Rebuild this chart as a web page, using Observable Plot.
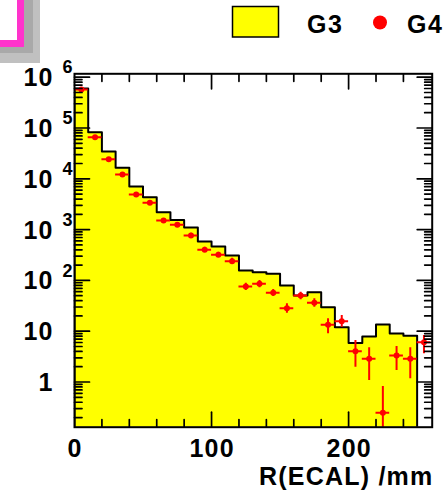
<!DOCTYPE html>
<html>
<head>
<meta charset="utf-8">
<script src="https://cdn.jsdelivr.net/npm/d3@7"></script>
<script src="https://cdn.jsdelivr.net/npm/@observablehq/plot@0.6"></script>
<style>
  html, body { margin: 0; padding: 0; background: #fff; }
  #wrap { position: relative; width: 443px; height: 494px; overflow: hidden; }
  #chart { position: absolute; left: 0; top: 0; }
  #chart svg text { letter-spacing: 1.2px; }
  .abs { position: absolute; }
  #legend { position: absolute; left: 0; top: 0; }
  #legend text { font-family: "Liberation Sans", Arial, sans-serif; font-weight: bold; font-size: 25px; letter-spacing: 1.5px; }
</style>
</head>
<body>
<div id="wrap">
  <div id="chart"></div>
  <!-- title box (clipped, with shadow) -->
  <div class="abs" style="left:0;top:0;width:40px;height:63px;background:#c0c0c0;"></div>
  <div class="abs" style="left:0;top:0;width:33px;height:53px;background:#a9a9a9;"></div>
  <div class="abs" style="left:-20px;top:-20px;width:36.5px;height:59.5px;background:#fff;border-right:7px solid #ff33cc;border-bottom:7px solid #ff33cc;"></div>
  <svg id="legend" width="443" height="60"></svg>
</div>
<script>
// ---- data ----
const binLow = [0,10,20,30,40,50,60,70,80,90,100,110,120,130,140,150,160,170,180,190,200,210,220,230,240];
const binHigh = [10,20,30,40,50,60,70,80,90,100,110,120,130,140,150,160,170,180,190,200,210,220,230,240,250];
const g3 = [600000,82600,34400,16500,7050,4350,2200,1545,1100,583,465,309,157,145,135,79.4,50.4,58.6,29.7,12.0,5.86,7.87,13.5,9.0,8.1];

const g4Low  = [0,10,20,30,40,50,60,70,80,90,100,110,120,130,140,150,160,170,180,190,200,210,220,230,240,250];
const g4High = [10,20,30,40,50,60,70,80,90,100,110,120,130,140,150,160,170,180,190,200,210,220,230,240,250,260];
const g4 = [575000,65900,24300,12200,4910,3370,1510,1240,765,400,319,239,75.9,85.7,57.0,28.4,50.4,36.2,13.4,15.7,4.04,2.86,0.248,3.32,2.86,6.07];
const g4ErrLo = [555000,62000,23000,11500,4600,3150,1380,1130,690,355,283,210,63.3,71.5,48.2,22.6,41.5,29.7,8.9,12.0,1.96,1.07,0.05,1.68,1.16,3.59];
const g4ErrHi = [595000,70000,25700,12900,5250,3600,1650,1360,850,450,360,272,88.1,99.6,66.2,34.6,58.6,43.4,17.5,20.4,6.56,4.71,0.815,5.0,4.71,8.23];

const xDomain = [0, 261];
const yDomain = [0.129, 1.167e6];

const xMajorTicks = [100, 200];
const xMinorTicks = [20, 40, 60, 80, 120, 140, 160, 180, 220, 240];
const xTickLabels = ["0", "100", "200"];
const xTickValues = [0, 100, 200];

const yMajorTicks = [1, 10, 100, 1000, 10000, 100000, 1000000];
const yLabelBase = ["1", "10", "10", "10", "10", "10", "10"];
const yLabelExp  = ["", "", "2", "3", "4", "5", "6"];

const xTitle = "R(ECAL) /mm";
const legendNames = ["G3", "G4"];

// minor log ticks (2..9 per decade) within the domain
const yMinorTicks = [];
for (let e = -1; e <= 5; e++) for (let m = 2; m <= 9; m++) {
  const v = m * Math.pow(10, e);
  if (v > yDomain[0] && v < yDomain[1]) yMinorTicks.push(v);
}

// ---- tables ----
const floorY = yDomain[0] * 0.5;
const outline = [{x: binLow[0], y: floorY}]
  .concat(binLow.map((lo, i) => ({x: lo, y: g3[i]})))
  .concat([{x: binHigh[binHigh.length - 1], y: g3[g3.length - 1]}, {x: binHigh[binHigh.length - 1], y: floorY}]);
const pts = g4.map((v, i) => ({lo: g4Low[i], hi: g4High[i], c: (g4Low[i] + g4High[i]) / 2, v, eLo: g4ErrLo[i], eHi: g4ErrHi[i]}));
const yLabels = yMajorTicks.map((v, i) => ({v, base: yLabelBase[i], exp: yLabelExp[i]}));
const xLabels = xTickValues.map((v, i) => ({v, t: xTickLabels[i]}));

const tickShape = {draw(ctx, l) { ctx.moveTo(0, 0); ctx.lineTo(0, -l); }};
const font = "Liberation Sans, Arial, sans-serif";
const tk = (data, opts) => Plot.vector(data, {anchor: "start", shape: tickShape, stroke: "black", strokeWidth: 1.7, ...opts});

const chart = Plot.plot({
  width: 443,
  height: 494,
  marginLeft: 74,
  marginRight: 11.3,
  marginTop: 73.3,
  marginBottom: 67.3,
  x: {domain: xDomain, axis: null},
  y: {type: "log", domain: yDomain, axis: null},
  style: {fontFamily: font, fontWeight: "bold", background: "transparent"},
  marks: [
    Plot.areaY(outline, {x: "x", y1: floorY, y2: "y", curve: "step-after", fill: "#ffff00", clip: true}),
    Plot.line(outline, {x: "x", y: "y", curve: "step-after", stroke: "black", strokeWidth: 2, clip: true}),
    Plot.ruleY(pts, {x1: "lo", x2: "hi", y: "v", stroke: "#ff0000", strokeWidth: 2, clip: true}),
    Plot.ruleX(pts, {x: "c", y1: "eLo", y2: "eHi", stroke: "#ff0000", strokeWidth: 2, clip: true}),
    Plot.dot(pts, {x: "c", y: "v", r: 3, fill: "#ff0000", clip: true}),
    // ticks
    tk(xMajorTicks, {x: d => d, y: () => yDomain[0], length: 15, rotate: 0}),
    tk(xMinorTicks, {x: d => d, y: () => yDomain[0], length: 7.5, rotate: 0}),
    tk(xMajorTicks, {x: d => d, y: () => yDomain[1], length: 15, rotate: 180}),
    tk(xMinorTicks, {x: d => d, y: () => yDomain[1], length: 7.5, rotate: 180}),
    tk(yMajorTicks, {y: d => d, x: () => xDomain[0], length: 15, rotate: 90}),
    tk(yMinorTicks, {y: d => d, x: () => xDomain[0], length: 7.5, rotate: 90}),
    tk(yMajorTicks, {y: d => d, x: () => xDomain[1], length: 15, rotate: -90}),
    tk(yMinorTicks, {y: d => d, x: () => xDomain[1], length: 7.5, rotate: -90}),
    Plot.frame({stroke: "black", strokeWidth: 2}),
    // labels
    Plot.text(yLabels, {frameAnchor: "left", y: "v", text: "base", textAnchor: "end", lineAnchor: "middle", dx: -20.8, dy: 1, fontSize: 25, fill: "black"}),
    Plot.text(yLabels, {frameAnchor: "left", y: "v", text: "exp", textAnchor: "start", lineAnchor: "bottom", dx: -12, dy: -3.8, fontSize: 18, fill: "black"}),
    Plot.text(xLabels, {x: "v", frameAnchor: "bottom", text: "t", lineAnchor: "bottom", dx: 0.6, dy: 30, fontSize: 25, fill: "black"}),
    Plot.text([xTitle], {frameAnchor: "bottom-right", text: d => d, textAnchor: "end", lineAnchor: "bottom", dx: 1.2, dy: 58, fontSize: 25, fill: "black"})
  ]
});
document.getElementById("chart").appendChild(chart);

// legend
const leg = d3.select("#legend");
leg.append("rect").attr("x", 232.5).attr("y", 6.5).attr("width", 46).attr("height", 30.5)
  .attr("fill", "#ffff00").attr("stroke", "black").attr("stroke-width", 1.5);
leg.append("text").attr("x", 307).attr("y", 33).text(legendNames[0]);
leg.append("circle").attr("cx", 380).attr("cy", 22.5).attr("r", 7).attr("fill", "#ff0000");
leg.append("text").attr("x", 407).attr("y", 33).text(legendNames[1]);
</script>
</body>
</html>
